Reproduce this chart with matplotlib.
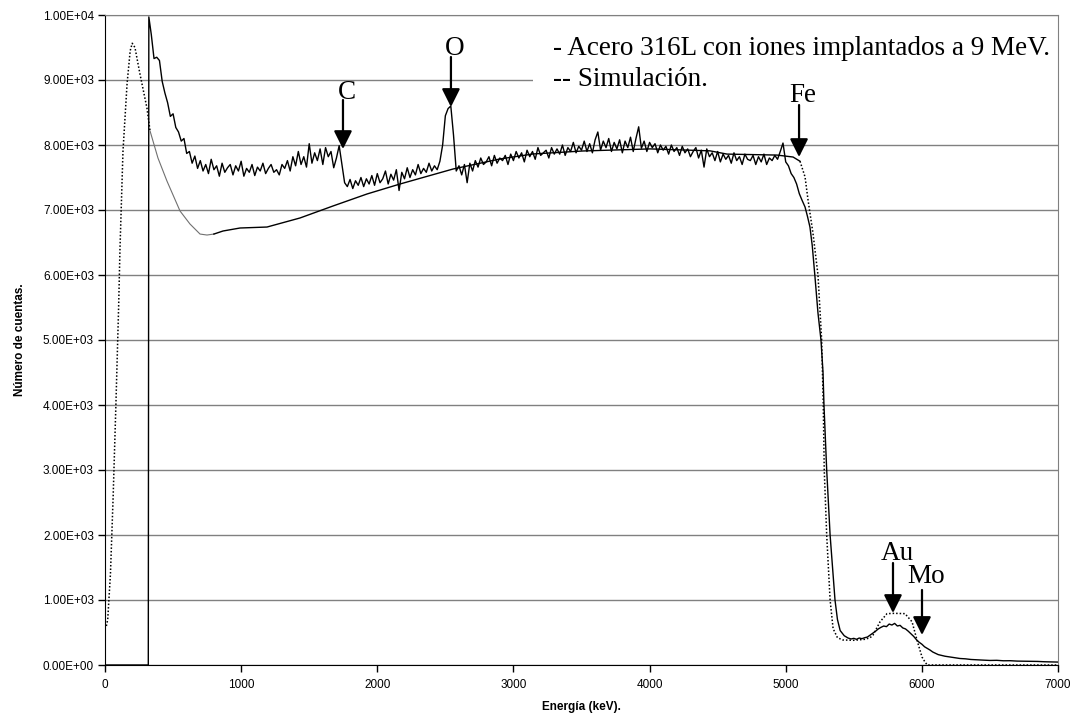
import numpy as np
import matplotlib.pyplot as plt
from matplotlib.patches import Rectangle
from matplotlib.ticker import FuncFormatter, MultipleLocator

# experimental spectrum: zero region and the jump at the surface edge
exp_head_e = [0, 318, 322]
exp_head_c = [0, 0, 9970]

# noisy plateau, one value every 20 keV from 340 to 5100 keV
exp_noise_start = 340
exp_noise_step = 20
exp_noise_c = [
    9700, 9330, 9350, 9300, 8980, 8800, 8650, 8440, 8480, 8270,
    8200, 8060, 8100, 7870, 7900, 7720, 7830, 7640, 7760, 7600,
    7700, 7560, 7780, 7620, 7680, 7520, 7720, 7580, 7650, 7700,
    7540, 7680, 7600, 7750, 7520, 7640, 7580, 7700, 7530, 7660,
    7600, 7720, 7560, 7640, 7700, 7580, 7620, 7540, 7700, 7640,
    7760, 7600, 7820, 7680, 7900, 7700, 7820, 7660, 8020, 7720,
    7880, 7760, 7940, 7700, 7960, 7820, 7900, 7650, 7800, 7990,
    7700, 7420, 7360, 7470, 7330, 7450, 7380, 7500, 7360, 7480,
    7400, 7530, 7380, 7560, 7420, 7480, 7600, 7400, 7550, 7460,
    7620, 7300, 7580, 7480, 7650, 7500, 7620, 7540, 7700, 7560,
    7640, 7580, 7720, 7600, 7680, 7620, 7750, 8000, 8450, 8560,
    8600, 8150, 7600, 7680, 7540, 7700, 7420, 7720, 7600, 7760,
    7660, 7800, 7700, 7740, 7820, 7680, 7840, 7720, 7800, 7760,
    7840, 7700, 7860, 7760, 7900, 7800, 7880, 7740, 7920, 7820,
    7900, 7780, 7960, 7840, 7880, 7920, 7800, 7960, 7860, 7940,
    7860, 8000, 7840, 7960, 7900, 8040, 7880, 7980, 7920, 8060,
    7900, 8020, 7880, 8080, 8200, 7920, 8060, 7960, 8100, 7900,
    8040, 7940, 8080, 7880, 8060, 7960, 8120, 7900, 8100, 8280,
    7950, 8060, 7900, 8040, 7960, 8020, 7880, 8000, 7920, 7980,
    7860, 8000, 7900, 7960, 7840, 7980, 7880, 7940, 7820, 7900,
    7960, 7800, 7920, 7660, 7940, 7820, 7880, 7760, 7900, 7740,
    7860, 7780, 7840, 7720, 7880, 7760, 7820, 7700, 7860, 7780,
    7760, 7840, 7700, 7820, 7740, 7860, 7700, 7800, 7760, 7840,
    7780, 7900, 8030, 7740, 7680, 7560, 7500, 7400, 7250,
]

# Fe edge and the Au / Mo region
exp_tail_e = [5120, 5142, 5160, 5178, 5195, 5215, 5237, 5259, 5274, 5281,
              5301, 5326, 5362, 5380, 5400, 5430, 5458, 5480, 5500, 5520,
              5540, 5560, 5580, 5600, 5620, 5640, 5660, 5680, 5700, 5720,
              5740, 5760, 5780, 5800, 5820, 5840, 5860, 5880, 5900, 5920,
              5940, 5960, 5980, 6000, 6020, 6040, 6060, 6080, 6100, 6120,
              6140, 6170, 6200, 6240, 6280, 6320, 6360, 6400, 6450, 6500,
              6550, 6600, 6650, 6700, 6750, 6800, 6850, 6900, 6950, 7000]
exp_tail_c = [7150, 7046, 6900, 6738, 6450, 5970, 5415, 5000, 4500, 4000,
              3000, 2000, 1000, 700, 530, 450, 415, 400, 410, 395,
              415, 405, 420, 430, 460, 490, 520, 555, 580, 600,
              590, 630, 615, 640, 600, 610, 570, 555, 520, 480,
              440, 390, 350, 320, 280, 255, 230, 200, 180, 160,
              150, 135, 125, 110, 100, 95, 85, 80, 75, 70,
              72, 65, 66, 60, 58, 55, 55, 50, 48, 45]

# simulation
sim_e = [10, 20, 40, 60, 80, 100, 110, 132, 162, 185, 200, 220, 257, 308,
         331, 389, 455, 551, 624, 698, 749, 800, 867, 992, 1190, 1432, 1675,
         1924, 2167, 2557, 2901, 3144, 3511, 4004, 4444, 4569, 4936, 5054,
         5105, 5142, 5164, 5200, 5237, 5264, 5276, 5283, 5301, 5326, 5348,
         5380, 5420, 5500, 5580, 5620, 5641, 5693, 5744, 5800, 5876, 5928,
         5964, 6001, 6023, 6040, 7000]
sim_c = [600, 700, 1400, 2600, 4000, 5500, 6400, 7900, 8940, 9450, 9565,
         9500, 9090, 8570, 8215, 7800, 7446, 6985, 6785, 6630, 6615, 6630,
         6677, 6723, 6738, 6877, 7062, 7246, 7400, 7631, 7785, 7862, 7908,
         7940, 7910, 7860, 7845, 7815, 7750, 7508, 7154, 6646, 6000, 5000,
         4000, 3000, 2000, 1000, 560, 420, 385, 380, 395, 420, 460, 665, 790,
         795, 790, 665, 385, 123, 46, 0, 0]

# peak labels: (text, arrow x, text y, arrow start y, arrow tip y)
peaks = [
    ('C', 1748, 8815, 8692, 7938),
    ('O', 2541, 9492, 9354, 8585),
    ('Fe', 5098, 8769, 8615, 7815),
    ('Au', 5788, 1723, 1569, 800),
    ('Mo', 6001, 1354, 1154, 462),
]

noise_e = exp_noise_start + exp_noise_step * np.arange(len(exp_noise_c))
exp_e = np.concatenate([exp_head_e, noise_e, exp_tail_e])
exp_c = np.concatenate([exp_head_c, exp_noise_c, exp_tail_c])
sim_e = np.array(sim_e)
sim_c = np.array(sim_c)

fig = plt.figure(figsize=(10.77, 7.18), dpi=100)
ax = fig.add_axes([105 / 1077, 53 / 718, 953 / 1077, 650 / 718])

ax.plot(exp_e, exp_c, color='black', lw=1.0, zorder=3)

# simulation drawn dotted on the steep parts, thin elsewhere
dots = (0, (1, 1.3))
m1 = sim_e <= 331
m2 = (sim_e >= 331) & (sim_e <= 800)
m3 = (sim_e >= 800) & (sim_e <= 5105)
m4 = sim_e >= 5105
ax.plot(sim_e[m1], sim_c[m1], color='black', lw=1.1, ls=dots, zorder=3)
ax.plot(sim_e[m2], sim_c[m2], color='#707070', lw=0.8, zorder=3)
ax.plot(sim_e[m3], sim_c[m3], color='black', lw=1.0, zorder=3)
ax.plot(sim_e[m4], sim_c[m4], color='black', lw=1.1, ls=dots, zorder=3)

ax.set_xlim(0, 7000)
ax.set_ylim(0, 10000)
ax.xaxis.set_major_locator(MultipleLocator(1000))
ax.yaxis.set_major_locator(MultipleLocator(1000))
ax.yaxis.set_major_formatter(FuncFormatter(lambda v, p: format(v, '.2E')))

ax.grid(axis='y', color='#808080', lw=1.0)
ax.set_axisbelow(True)
for s in ['top', 'right']:
    ax.spines[s].set_color('#808080')
for s in ['left', 'bottom']:
    ax.spines[s].set_color('black')
ax.tick_params(direction='out', length=5, width=1, labelsize=8.5)
ax.tick_params(axis='x', pad=5)
ax.tick_params(axis='y', pad=3)
for lab in ax.get_xticklabels() + ax.get_yticklabels():
    lab.set_family('Liberation Sans')

ax.set_xlabel('Energía (keV).', family='Liberation Sans', fontsize=8.5,
              fontweight='bold', labelpad=7)
ax.set_ylabel('Número de cuentas.', family='Liberation Sans', fontsize=8.5,
              fontweight='bold', labelpad=12)

# white box behind the legend text
ax.add_patch(Rectangle((0.449, 0.87), 0.56, 0.105, transform=ax.transAxes,
                       facecolor='white', edgecolor='none', zorder=1.5,
                       clip_on=True))
ax.text(3291, 9492, '- Acero 316L con iones implantados a 9 MeV.',
        family='Liberation Serif', fontsize=19.5, va='center', ha='left', zorder=4)
ax.text(3291, 9000, '-- Simulación.',
        family='Liberation Serif', fontsize=19.5, va='center', ha='left', zorder=4)

for name, x, ty, y0, y1 in peaks:
    ax.text(x + 30, ty, name, family='Liberation Serif', fontsize=19.5,
            ha='center', va='center', zorder=4)
    ax.annotate('', xy=(x, y1), xytext=(x, y0),
                arrowprops=dict(arrowstyle='-|>,head_length=1.1,head_width=0.55',
                                color='black', lw=1.6, shrinkA=0, shrinkB=0),
                zorder=4)

fig.savefig('out.png', dpi=100)
